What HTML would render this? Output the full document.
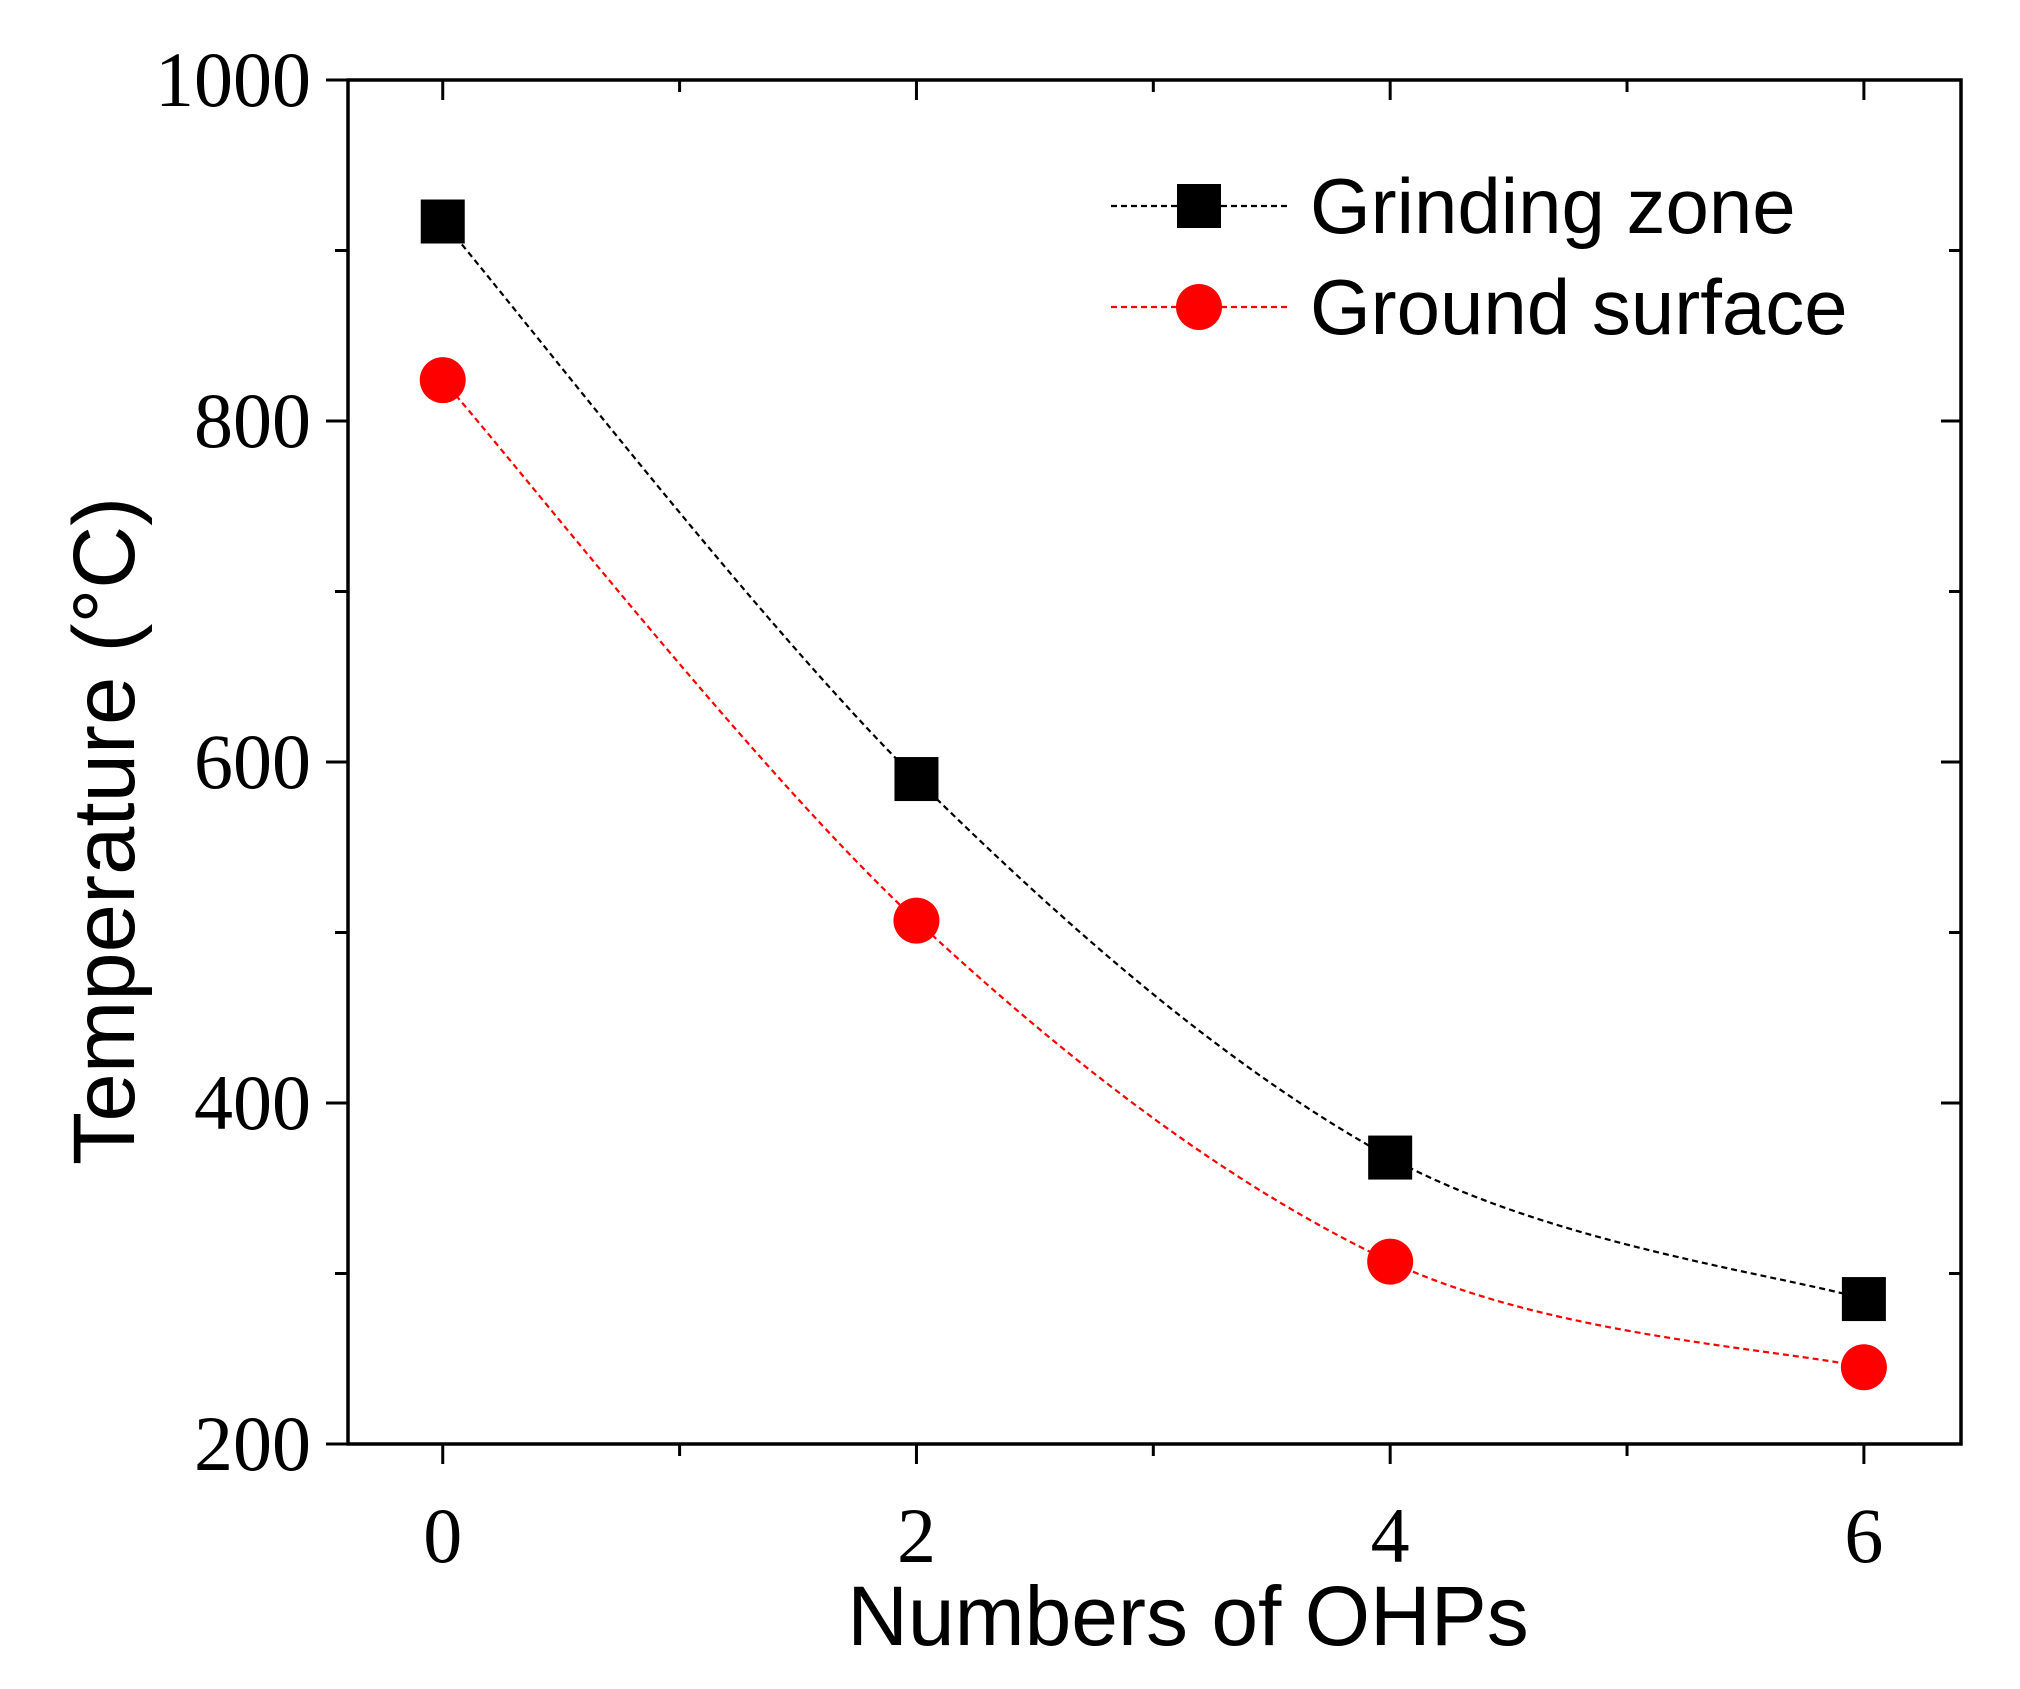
<!DOCTYPE html>
<html><head><meta charset="utf-8"><style>
html,body{margin:0;padding:0;background:#fff}
svg{display:block}
</style></head><body>
<svg id="chart" width="2020" height="1689" viewBox="0 0 2020 1689" xmlns="http://www.w3.org/2000/svg"></svg>
<script>
const categories = [0, 2, 4, 6];
const grindingZone = [917, 590, 368, 285];
const groundSurface = [824, 507, 307, 245];
const xTicks = [0, 2, 4, 6];
const xMinorTicks = [1, 3, 5];
const yTicks = [200, 400, 600, 800, 1000];
const yMinorTicks = [300, 500, 700, 900];

const L=348, R=1961, T=80, B=1444;
const xMin=-0.4, xMax=6.41, yMin=200, yMax=1000;
const xs = v => L + (v - xMin) / (xMax - xMin) * (R - L);
const ys = v => B - (v - yMin) / (yMax - yMin) * (B - T);
const svg = document.getElementById('chart');
const NS = 'http://www.w3.org/2000/svg';
function mk(tag, attrs, parent){const e=document.createElementNS(NS,tag);for(const k in attrs)e.setAttribute(k,attrs[k]);(parent||svg).appendChild(e);return e;}

const frame = mk('rect',{x:L,y:T,width:R-L,height:B-T,fill:'none',stroke:'#000','stroke-width':3.5});



xTicks.forEach(v=>{
  const x=xs(v);
  const t1=mk('line',{x1:x,y1:B,x2:x,y2:B+20,stroke:'#000','stroke-width':3});
  
  
  mk('line',{x1:x,y1:T,x2:x,y2:T+20,stroke:'#000','stroke-width':3});
  const lb=mk('text',{x:x,y:1562,'text-anchor':'middle','font-family':'Liberation Serif, serif','font-size':78});
  lb.textContent=v;
  
  
});
xMinorTicks.forEach(v=>{
  const x=xs(v);
  const t=mk('line',{x1:x,y1:B,x2:x,y2:B+12,stroke:'#000','stroke-width':3});
  
  
  mk('line',{x1:x,y1:T,x2:x,y2:T+12,stroke:'#000','stroke-width':3});
});
yTicks.forEach(v=>{
  const y=ys(v);
  const t=mk('line',{x1:L-22,y1:y,x2:L,y2:y,stroke:'#000','stroke-width':3});
  
  
  mk('line',{x1:R-20,y1:y,x2:R,y2:y,stroke:'#000','stroke-width':3});
  const lb=mk('text',{x:311,y:y+26,'text-anchor':'end','font-family':'Liberation Serif, serif','font-size':78});
  lb.textContent=v;
  
  
});
yMinorTicks.forEach(v=>{
  const y=ys(v);
  const t=mk('line',{x1:L-13,y1:y,x2:L,y2:y,stroke:'#000','stroke-width':3});
  
  
  mk('line',{x1:R-12,y1:y,x2:R,y2:y,stroke:'#000','stroke-width':3});
});

const xt=mk('text',{x:1188,y:1645,'text-anchor':'middle','font-family':'Liberation Sans, sans-serif','font-size':84});
xt.textContent='Numbers of OHPs';


const yt=mk('text',{x:0,y:0,'text-anchor':'middle','font-family':'Liberation Sans, sans-serif','font-size':87,transform:'translate(134,831) rotate(-90)'});
yt.textContent='Temperature (°C)';



function curve(vals){
  const p=vals.map((v,i)=>[xs(categories[i]),ys(v)]);
  let d=`M${p[0][0]},${p[0][1]}`;
  for(let i=0;i<p.length-1;i++){
    const p0=p[i-1]||p[i],p1=p[i],p2=p[i+1],p3=p[i+2]||p[i+1];
    const c1=[p1[0]+(p2[0]-p0[0])/6,p1[1]+(p2[1]-p0[1])/6];
    const c2=[p2[0]-(p3[0]-p1[0])/6,p2[1]-(p3[1]-p1[1])/6];
    d+=` C${c1[0]},${c1[1]} ${c2[0]},${c2[1]} ${p2[0]},${p2[1]}`;
  }
  return d;
}
function series(vals,color,shape,name){
  const path=mk('path',{d:curve(vals),fill:'none',stroke:color,'stroke-width':2.2,'stroke-dasharray':'6,4'});
  
  
  vals.forEach((v,i)=>{
    const x=xs(categories[i]),y=ys(v);
    let m;
    if(shape==='square') m=mk('rect',{x:x-22,y:y-22,width:44,height:44,fill:color});
    else m=mk('circle',{cx:x,cy:y,r:23,fill:color});
    
    
  });
}
series(grindingZone,'#000','square','grinding-zone');
series(groundSurface,'#f00','circle','ground-surface');

function legend(y,color,shape,label,name){
  const g=mk('g',{});
  
  
  mk('line',{x1:1111,y1:y,x2:1289,y2:y,stroke:color,'stroke-width':2.2,'stroke-dasharray':'6,4'},g);
  if(shape==='square') mk('rect',{x:1177,y:y-22,width:44,height:44,fill:color},g);
  else mk('circle',{cx:1199,cy:y,r:23,fill:color},g);
  const t=mk('text',{x:1310,y:y+27,'font-family':'Liberation Sans, sans-serif','font-size':78},g);
  t.textContent=label;
}
legend(206,'#000','square','Grinding zone','legend-grinding-zone');
legend(307,'#f00','circle','Ground surface','legend-ground-surface');
</script>
</body></html>
